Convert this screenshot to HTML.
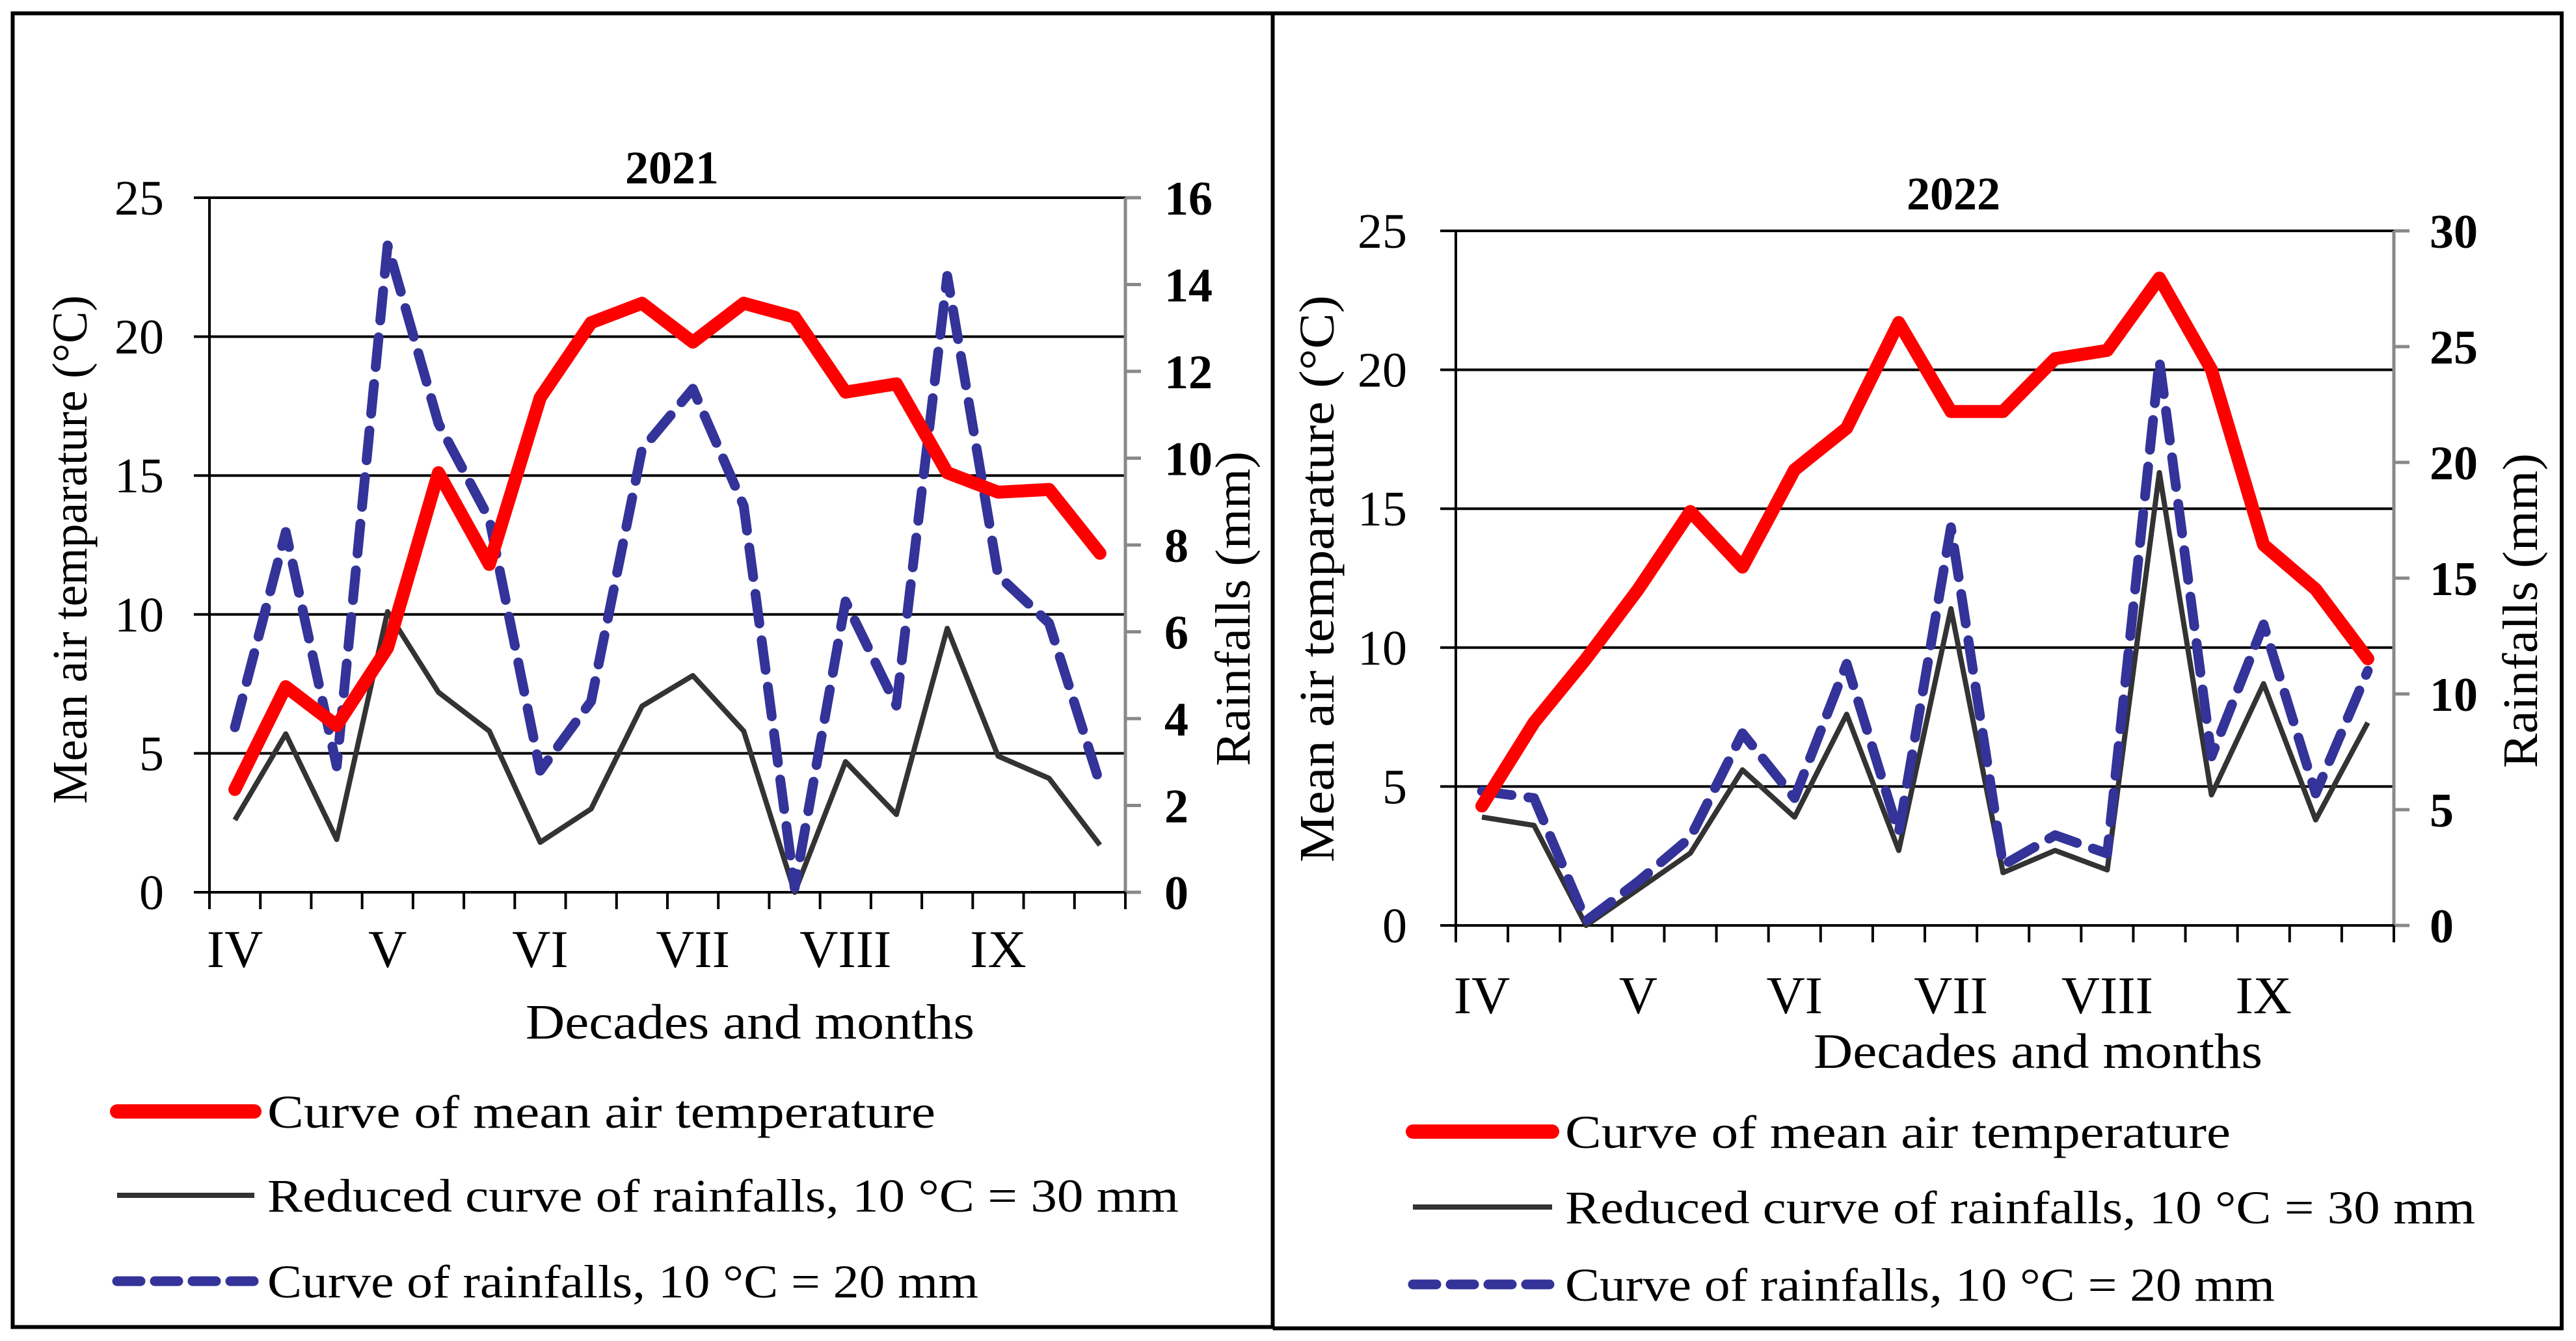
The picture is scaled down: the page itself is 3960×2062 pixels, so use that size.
<!DOCTYPE html>
<html><head><meta charset="utf-8"><style>
html,body{margin:0;padding:0;background:#fff}
svg{display:block}
text{font-family:"Liberation Serif",serif;fill:#000}
</style></head><body>
<svg id="s" width="3960" height="2062" viewBox="0 0 3960 2062" xmlns="http://www.w3.org/2000/svg">
<rect x="19.5" y="20.5" width="1937" height="2020" fill="none" stroke="#000" stroke-width="6"/>
<path d="M1956.5 20.5 H3938 V2042.5 H1956.5" fill="none" stroke="#000" stroke-width="6"/>
</svg>
<script>
const months = ["IV","V","VI","VII","VIII","IX"];
const temp2021 = [3.7,7.4,6.0,8.8,15.1,11.8,17.8,20.5,21.2,19.8,21.2,20.7,18.0,18.3,15.1,14.4,14.5,12.2];
const rain2021 = [3.8,8.3,2.9,14.9,10.8,8.6,2.8,4.4,10.2,11.6,8.9,0.1,6.7,4.3,14.2,7.3,6.2,2.5];
const reduced2021 = [2.6,5.7,1.9,10.1,7.2,5.8,1.8,3.0,6.7,7.8,5.8,0.0,4.7,2.8,9.5,4.9,4.1,1.7];
const temp2022 = [4.3,7.3,9.6,12.1,14.9,12.9,16.4,17.9,21.7,18.5,18.5,20.4,20.7,23.3,20.0,13.7,12.1,9.6];
const rain2022 = [5.8,5.5,0.2,1.9,3.8,8.3,5.5,11.3,4.0,17.2,2.6,3.9,3.1,24.4,7.3,13.0,5.7,11.0];
const reduced2022 = [3.9,3.6,0.0,1.3,2.6,5.6,3.9,7.6,2.7,11.4,1.9,2.7,2.0,16.3,4.7,8.7,3.8,7.3];
const leftTicks = [0,5,10,15,20,25];
const rightTicks2021 = [0,2,4,6,8,10,12,14,16];
const rightTicks2022 = [0,5,10,15,20,25,30];

const NS="http://www.w3.org/2000/svg";
const svg=document.getElementById('s');
function mk(tag,attrs,parent){const e=document.createElementNS(NS,tag);for(const k in attrs)e.setAttribute(k,attrs[k]);(parent||svg).appendChild(e);return e;}

function chart(c){
  const g=mk('g',{});
  
  
  const n=c.temp.length;
  const bw=(c.x1-c.x0)/n;
  const xs=i=>c.x0+bw*(i+0.5);
  const yl=v=>c.yb-(v/25)*(c.yb-c.yt);
  const yr=v=>c.yb-(v/c.rmax)*(c.yb-c.yt);
  leftTicks.forEach(v=>{
    if(v===0)return;
    const l=mk('line',{x1:c.x0,x2:c.x1,y1:yl(v),y2:yl(v),stroke:'#000','stroke-width':4},g);
    
    
  });
  const la=mk('line',{x1:c.x0,x2:c.x0,y1:c.yt,y2:c.yb,stroke:'#000','stroke-width':4},g);
  
  
  leftTicks.forEach(v=>{
    mk('line',{x1:c.x0-24,x2:c.x0,y1:yl(v),y2:yl(v),stroke:'#000','stroke-width':4},g);
    const t=mk('text',{x:c.x0-c.lpad,y:yl(v)+26,'font-size':c.fs,'text-anchor':'end'},g);
    t.textContent=v;
    
    
  });
  const ra=mk('line',{x1:c.x1,x2:c.x1,y1:c.yt,y2:c.yb,stroke:'#888','stroke-width':5},g);
  
  
  c.rticks.forEach(v=>{
    mk('line',{x1:c.x1,x2:c.x1+24,y1:yr(v),y2:yr(v),stroke:'#888','stroke-width':5},g);
    const t=mk('text',{x:c.rx,y:yr(v)+26,'font-size':c.fs-2,'font-weight':'bold'},g);
    t.textContent=v;
    
    
  });
  const ba=mk('line',{x1:c.x0-24,x2:c.x1,y1:c.yb,y2:c.yb,stroke:'#000','stroke-width':4},g);
  
  
  for(let i=0;i<=n;i++){
    mk('line',{x1:c.x0+bw*i,x2:c.x0+bw*i,y1:c.yb,y2:c.yb+26,stroke:'#000','stroke-width':4},g);
  }
  months.forEach((m,k)=>{
    const t=mk('text',{x:xs(k*3),y:c.my+28,'font-size':c.fs+6,'text-anchor':'middle'},g);
    t.textContent=m;
    
    
  });
  const pts=(arr,f)=>arr.map((v,i)=>xs(i).toFixed(1)+','+f(v).toFixed(1)).join(' ');
  const p1=mk('polyline',{points:pts(c.red,yr),fill:'none',stroke:'#333','stroke-width':8,'stroke-linejoin':'round'},g);
  
  
  const p2=mk('polyline',{points:pts(c.rain,yr),fill:'none',stroke:'#333399','stroke-width':15,'stroke-dasharray':'46 26','stroke-linecap':'round','stroke-linejoin':'round'},g);
  
  
  const p3=mk('polyline',{points:pts(c.temp,yl),fill:'none',stroke:'#ff0000','stroke-width':20,'stroke-linecap':'round','stroke-linejoin':'round'},g);
  
  
  const tt=mk('text',{x:c.tx,y:c.ty+24,'font-size':72,'font-weight':'bold','text-anchor':'middle'},g);
  tt.textContent=c.year;
  
  
  const lt=mk('text',{x:0,y:0,'font-size':c.fs,'text-anchor':'middle',textLength:c.ltLen,lengthAdjust:'spacingAndGlyphs',transform:`translate(${c.ltx+26},${c.lty}) rotate(-90)`},g);
  lt.textContent='Mean air temparature (°C)';
  
  
  const rt=mk('text',{x:0,y:0,'font-size':c.fs,'text-anchor':'middle',textLength:484,lengthAdjust:'spacingAndGlyphs',transform:`translate(${c.rtx+26},${c.rty}) rotate(-90)`},g);
  rt.textContent='Rainfalls (mm)';
  
  
  const xt=mk('text',{x:c.xtx,y:c.xty+26,'font-size':c.fs,'text-anchor':'start',textLength:690,lengthAdjust:'spacingAndGlyphs'},g);
  xt.textContent='Decades and months';
  
  
  const L=[['Curve of mean air temperature',{stroke:'#ff0000','stroke-width':22,'stroke-linecap':'round'},c.lenA],
           ['Reduced curve of rainfalls, 10 °C  = 30 mm',{stroke:'#333','stroke-width':8},c.lenB],
           ['Curve of rainfalls, 10 °C = 20 mm',{stroke:'#333399','stroke-width':15,'stroke-dasharray':'36 22','stroke-linecap':'round'},c.lenC]];
  L.forEach((e,k)=>{
    const y=c.legY[k];
    const a=Object.assign({x1:c.legX0,x2:c.legX1,y1:y,y2:y,fill:'none'},e[1]);
    const ln=mk('line',a,g);
    
    
    const t=mk('text',{x:c.legX1+20,y:y+25,'font-size':72,textLength:e[2],lengthAdjust:'spacingAndGlyphs'},g);
    t.textContent=e[0];
    
    
  });
}
chart({year:'2021',temp:temp2021,rain:rain2021,red:reduced2021.map(v=>v*16/25),rmax:16,rticks:rightTicks2021,
  x0:322,x1:1730,yt:304,yb:1372,lpad:70,rx:1790,fs:76,my:1459,tx:1033,ty:258,
  ltx:107,lty:845,ltLen:782,rtx:1895,rty:936,xtx:808,xty:1571,
  legX0:180,legX1:391,legY:[1709,1838,1970],lenA:1027,lenB:1401,lenC:1093});
chart({year:'2022',temp:temp2022,rain:rain2022,red:reduced2022.map(v=>v*30/25),rmax:30,rticks:rightTicks2022,
  x0:2238,x1:3680,yt:355,yb:1423,lpad:75,rx:3735,fs:76,my:1530,tx:3003,ty:298,
  ltx:2024,lty:890,ltLen:872,rtx:3874,rty:939,xtx:2788,xty:1616,
  legX0:2172,legX1:2386,legY:[1740,1856,1975],lenA:1023,lenB:1399,lenC:1091});
</script>
</body></html>
